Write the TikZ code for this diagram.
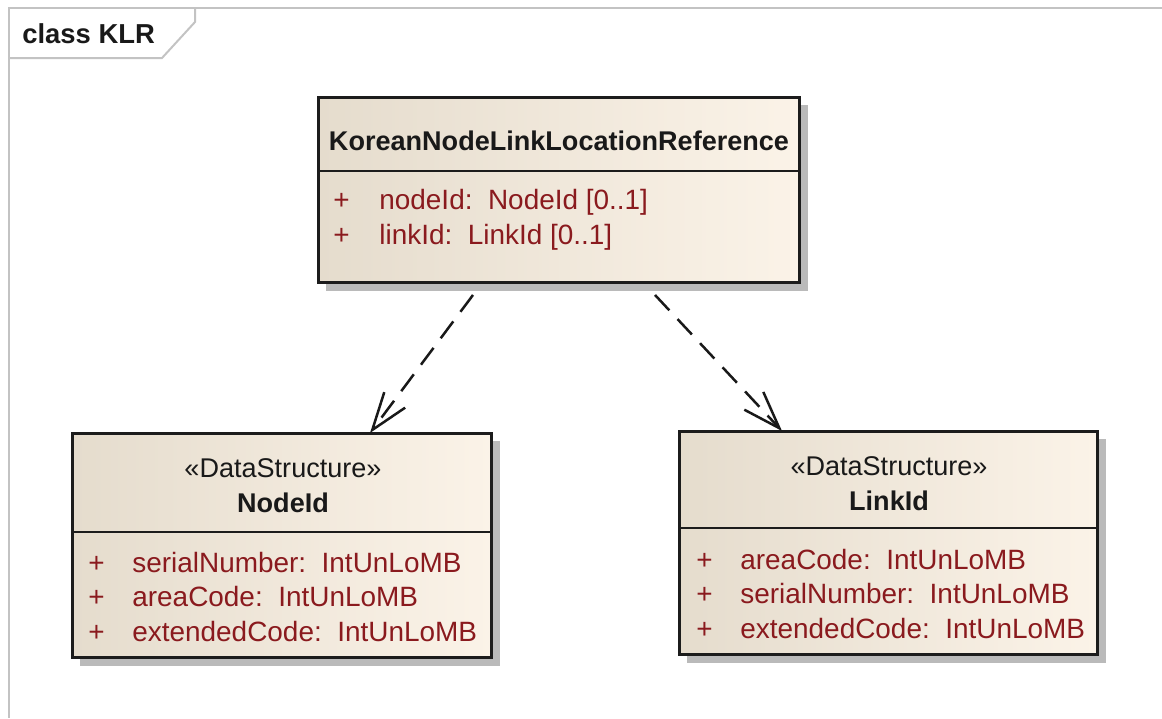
\documentclass[tikz,border=0pt]{standalone}
\usepackage{fontspec}
\setmainfont{Liberation Sans}
\usetikzlibrary{arrows.meta,shadows,calc}

\definecolor{clsleft}{RGB}{229,220,205}
\definecolor{clsright}{RGB}{251,243,232}
\definecolor{attrred}{RGB}{138,26,30}
\definecolor{clsborder}{RGB}{28,28,28}
\definecolor{framegray}{RGB}{195,195,195}

\newcommand\umlfont{\fontsize{15.4pt}{18pt}\selectfont}
\newcommand\attrfont{\fontsize{15.9pt}{18pt}\selectfont}

\tikzset{
  classbox/.style={rectangle, draw=clsborder, line width=0.06cm, inner sep=0pt, outer sep=0pt,
    left color=clsleft, middle color=clsright!90!clsleft, right color=clsright,
    anchor=north west,
    drop shadow={shadow xshift=0.16cm, shadow yshift=-0.16cm, fill=black!27, opacity=1}},
  sepline/.style={draw=clsborder, line width=0.045cm},
  clsname/.style={anchor=base, inner sep=0pt, text=black!90, font=\umlfont\bfseries},
  stereo/.style={anchor=base, inner sep=0pt, text=black!90, font=\umlfont},
  attr/.style={anchor=base west, inner sep=0pt, text=attrred, font=\attrfont},
  depend/.style={draw=black!90, line width=0.05cm, dash pattern=on 0.42cm off 0.24cm,
    -{Straight Barb[length=0.75cm, width=0.52cm]}},
  frameline/.style={draw=framegray, line width=0.04cm}
}

\begin{document}
\begin{tikzpicture}[x=0.02cm, y=-0.02cm]
\useasboundingbox (0,0) rectangle (1162,718);

% frame
\draw[frameline] (1162,8) -- (9,8) -- (9,718);
\draw[frameline] (9,58) -- (162,58) -- (195,22) -- (195,8);
\node[anchor=base west, inner sep=0pt, text=black!90, font=\fontsize{15.6pt}{18pt}\selectfont\bfseries] (frametitle) at (22,43) {class KLR};

% KoreanNodeLinkLocationReference
\node[classbox, minimum width=9.64cm, minimum height=3.72cm] (klr) at (318,97) {};
\draw[sepline] ($(klr.north west)+(0,74)$) -- ($(klr.north east)+(0,74)$);
\node[clsname] (klrname) at (559,150) {KoreanNodeLinkLocationReference};
\node[attr] (klrp1) at (333,209) {+};
\node[attr] (klra1) at (379,209) {nodeId:\ \ NodeId [0..1]};
\node[attr] (klrp2) at (333,244) {+};
\node[attr] (klra2) at (379,244) {linkId:\ \ LinkId [0..1]};

% NodeId
\node[classbox, minimum width=8.4cm, minimum height=4.5cm] (nodeid) at (72,433) {};
\draw[sepline] ($(nodeid.north west)+(0,99)$) -- ($(nodeid.north east)+(0,99)$);
\node[stereo] (nodeidst) at (283,477) {«DataStructure»};
\node[clsname] (nodeidname) at (283,512) {NodeId};
\node[attr] (nodeidp1) at (88,572) {+};
\node[attr] (nodeida1) at (132,572) {serialNumber:\ \ IntUnLoMB};
\node[attr] (nodeidp2) at (88,606) {+};
\node[attr] (nodeida2) at (132,606) {areaCode:\ \ IntUnLoMB};
\node[attr] (nodeidp3) at (88,641) {+};
\node[attr] (nodeida3) at (132,641) {extendedCode:\ \ IntUnLoMB};

% LinkId
\node[classbox, minimum width=8.38cm, minimum height=4.48cm] (linkid) at (679,431) {};
\draw[sepline] ($(linkid.north west)+(0,97)$) -- ($(linkid.north east)+(0,97)$);
\node[stereo] (linkidst) at (889,475) {«DataStructure»};
\node[clsname] (linkidname) at (889,510) {LinkId};
\node[attr] (linkidp1) at (696,569) {+};
\node[attr] (linkida1) at (740,569) {areaCode:\ \ IntUnLoMB};
\node[attr] (linkidp2) at (696,603) {+};
\node[attr] (linkida2) at (740,603) {serialNumber:\ \ IntUnLoMB};
\node[attr] (linkidp3) at (696,638) {+};
\node[attr] (linkida3) at (740,638) {extendedCode:\ \ IntUnLoMB};

% dependencies
\draw[depend] ($(klr.south west)+(155,12)$) -- ($(nodeid.north west)+(298,0)$);
\draw[depend] ($(klr.south west)+(337,12)$) -- ($(linkid.north west)+(103,0)$);
\end{tikzpicture}
\end{document}
